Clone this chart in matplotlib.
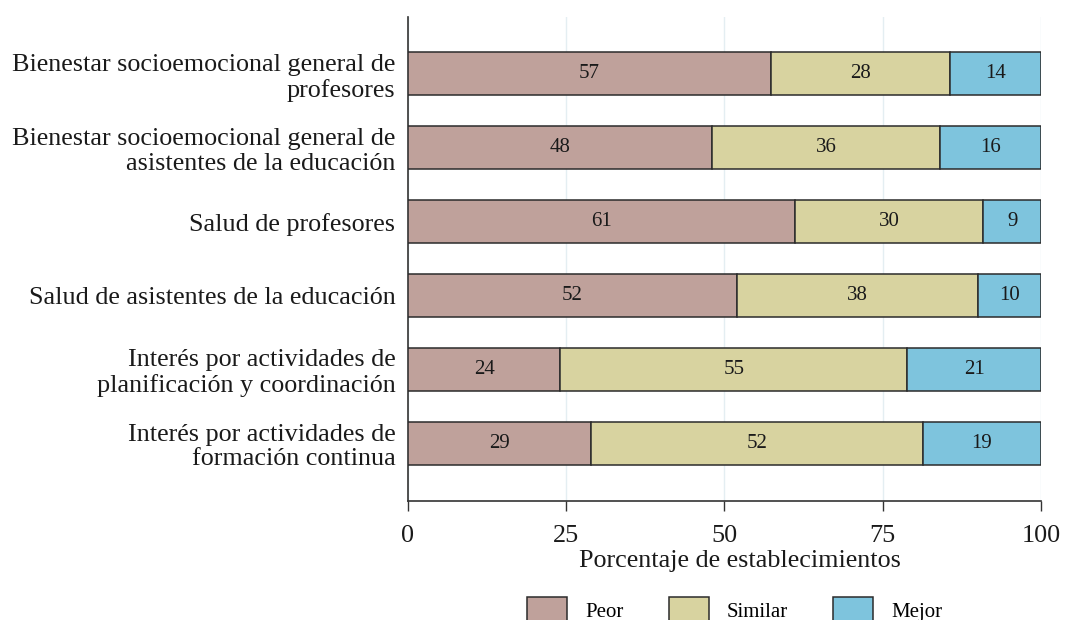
import matplotlib
matplotlib.use("Agg")
import matplotlib.pyplot as plt
import numpy as np

categories = [
    "Bienestar socioemocional general de\nprofesores",
    "Bienestar socioemocional general de\nasistentes de la educación",
    "Salud de profesores",
    "Salud de asistentes de la educación",
    "Interés por actividades de\nplanificación y coordinación",
    "Interés por actividades de\nformación continua",
]
peor = [57.4, 48.0, 61.2, 52.0, 24.1, 28.9]
similar = [28.2, 36.1, 29.7, 38.1, 54.8, 52.4]
mejor = [14.4, 15.9, 9.1, 9.9, 21.1, 18.7]
series_names = ["Peor", "Similar", "Mejor"]
colors = ["#bfa19b", "#d8d3a0", "#7ec4dd"]
xticks = [0, 25, 50, 75, 100]

plt.rcParams['font.family'] = ['Liberation Serif', 'DejaVu Serif']

fig = plt.figure(figsize=(10.65, 6.2), dpi=100)
ax = fig.add_axes([0.383, 0.192, 0.5945, 0.7806])

y = np.arange(len(categories))
left = np.zeros(len(categories))
for vals, name, col in zip([peor, similar, mejor], series_names, colors):
    vals = np.array(vals)
    bars = ax.barh(y, vals, left=left, height=0.58, color=col, edgecolor="#2b2b2b",
                   linewidth=1.1, label=name, zorder=3)
    for b, v, l in zip(bars, vals, left):
        ax.text(l + v / 2, b.get_y() + b.get_height() / 2, f"{v:.0f}",
                ha="center", va="center", fontsize=15, color="#1a1a1a", zorder=4)
    left = left + vals

ax.set_xlim(0, 100)
ax.set_ylim(5.78, -0.77)
ax.set_yticks(y)
ax.set_yticklabels(categories, fontsize=18.8, color="#1a1a1a", linespacing=1.15)
ax.tick_params(axis="y", length=0, pad=9)
ax.set_xticks(xticks)
ax.set_xticklabels([str(t) for t in xticks], fontsize=18.8, color="#1a1a1a")
ax.tick_params(axis="x", length=7, width=1.0, color="#333333", pad=10)
ax.set_xlabel("Porcentaje de establecimientos", fontsize=18.8, color="#1a1a1a", labelpad=2.2)
ax.xaxis.label.set_x(0.5245)

ax.grid(axis="x", color="#e4eef2", linewidth=1.0, zorder=0)
ax.set_axisbelow(True)
for s in ["top", "right"]:
    ax.spines[s].set_visible(False)
for s in ["left", "bottom"]:
    ax.spines[s].set_color("#333333")
    ax.spines[s].set_linewidth(1.2)

handles, labels = ax.get_legend_handles_labels()
fig.legend(handles, labels, loc="upper center", bbox_to_anchor=(0.690, 0.037),
           ncol=3, frameon=False, fontsize=15, handlelength=1.92, handleheight=1.54,
           handletextpad=0.87, columnspacing=2.16, borderpad=0, borderaxespad=0)

fig.savefig("out.png", dpi=100)
